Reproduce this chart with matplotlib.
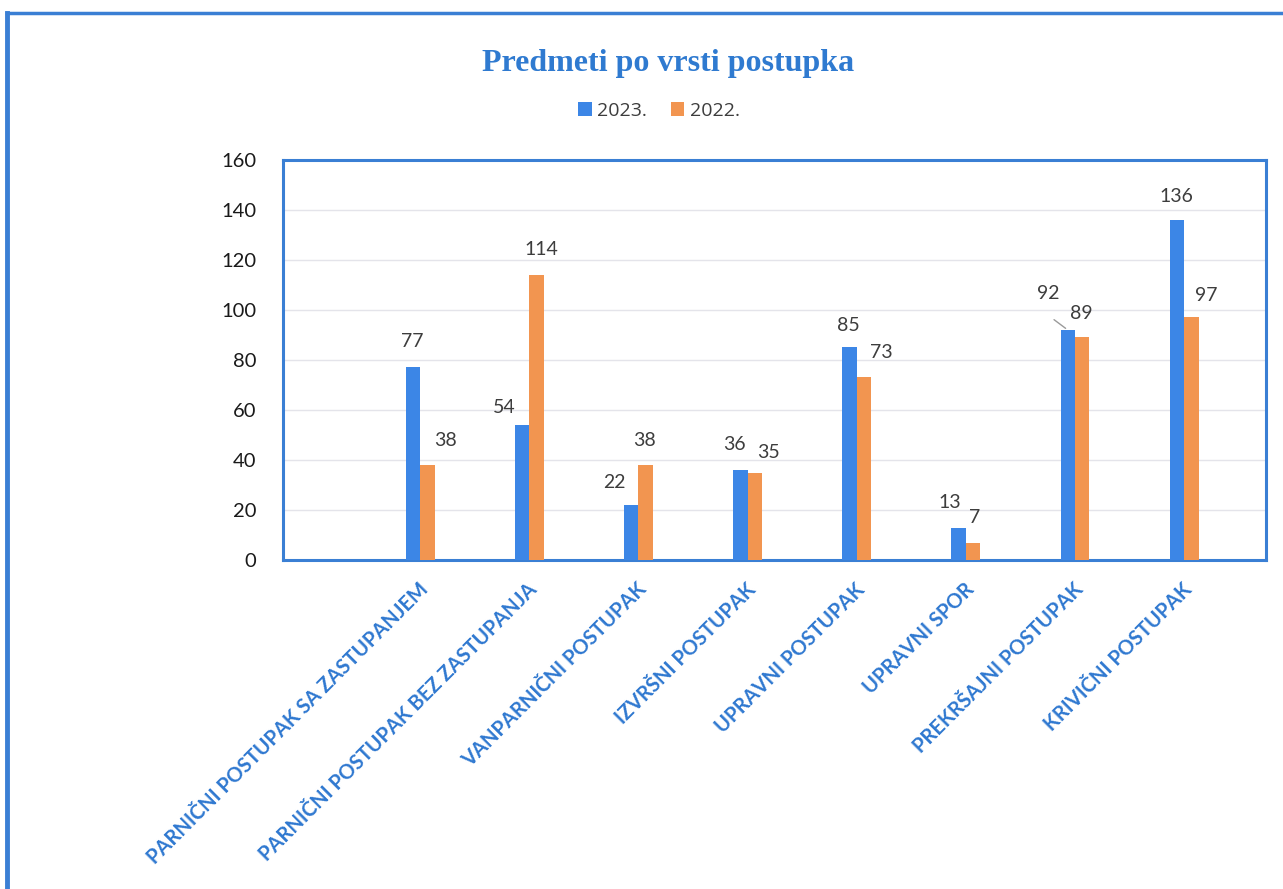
"""Predmeti po vrsti postupka - grouped bar chart, 2023 vs 2022."""

import numpy as np
import matplotlib.pyplot as plt
import matplotlib.transforms as mtrans
from matplotlib.lines import Line2D

#-----------------------------------------------------------------------------
# Data
#-----------------------------------------------------------------------------

categories = ['PARNIČNI POSTUPAK SA ZASTUPANJEM',
              'PARNIČNI POSTUPAK BEZ ZASTUPANJA',
              'VANPARNIČNI POSTUPAK',
              'IZVRŠNI POSTUPAK',
              'UPRAVNI POSTUPAK',
              'UPRAVNI SPOR',
              'PREKRŠAJNI POSTUPAK',
              'KRIVIČNI POSTUPAK']
values_2023 = [77, 54, 22, 36, 85, 13, 92, 136]
values_2022 = [38, 114, 38, 35, 73, 7, 89, 97]
series_names = ['2023.', '2022.']
yticks = [0, 20, 40, 60, 80, 100, 120, 140, 160]

# hand-placed label offsets (pixels) from bar top, as in the original
off_2023 = [(-1, 26), (-18, 17), (-17, 23), (-6, 25), (-1, 22), (-9, 25), (-20, 36), (-1, 23)]
off_2022 = [(18, 25), (5, 25), (-1, 25), (14, 20), (17, 25), (2, 25), (-1, 24), (15, 22)]

BLUE = '#3c86e6'
ORANGE = '#f29550'
FRAME = '#3a7fd4'
LABEL_BLUE = '#2f78d0'
TEXT = '#3d3d3d'

plt.rcParams['font.family'] = ['Lato', 'DejaVu Sans']

#-----------------------------------------------------------------------------
# Figure
#-----------------------------------------------------------------------------

fig = plt.figure(figsize=(12.83, 8.89), dpi=100)
fig.patch.set_facecolor('white')

# outer frame of the scanned page
fig.add_artist(Line2D([7/1283, 7/1283], [0, 1 - 13/889], color=FRAME, lw=3.5,
                      transform=fig.transFigure))
fig.add_artist(Line2D([7/1283, 1], [1 - 13/889, 1 - 13/889], color=FRAME, lw=2.5,
                      transform=fig.transFigure))

ax = fig.add_axes([283/1283, 1 - 560/889, (1266 - 283)/1283, 400/889])

x = np.arange(len(categories))
w = 0.132
b1 = ax.bar(x - w/2, values_2023, w, color=BLUE, label=series_names[0], zorder=3)
b2 = ax.bar(x + w/2, values_2022, w, color=ORANGE, label=series_names[1], zorder=3)

ax.set_xlim(-1.257, 7.75)
ax.set_ylim(0, 160)
ax.set_yticks(yticks)
ax.tick_params(axis='y', length=0, pad=19, labelsize=14.5, labelcolor='#1a1a1a')
ax.grid(axis='y', color='#e4e4ea', lw=1, zorder=0)

ax.set_xticks(x)
ax.set_xticklabels(categories, rotation=45, ha='right', rotation_mode='anchor',
                   fontsize=14.5, fontweight='bold', color=LABEL_BLUE)
ax.tick_params(axis='x', length=0, pad=14)
# nudge tick labels slightly left of the group centre
shift = mtrans.ScaledTranslation(-2/100, 0, fig.dpi_scale_trans)
for lbl in ax.get_xticklabels():
    lbl.set_transform(lbl.get_transform() + shift)

for s in ax.spines.values():
    s.set_color(FRAME)
    s.set_linewidth(2.2)

# data labels
for bars, vals, offs in [(b1, values_2023, off_2023), (b2, values_2022, off_2022)]:
    for rect, v, (dx, dy) in zip(bars, vals, offs):
        cx = rect.get_x() + rect.get_width()/2
        ax.annotate(str(v), (cx, v), xytext=(dx, dy), textcoords='offset pixels',
                    ha='center', va='center', fontsize=14, color=TEXT, zorder=5)

# leader line for 92
r = b1[6]
ax.annotate('', (r.get_x() + r.get_width()/2, values_2023[6]),
            xytext=(-16, 12), textcoords='offset pixels',
            arrowprops=dict(arrowstyle='-', color='#9a9a9a', lw=1))

fig.text(668/1283, 1 - 64/889, 'Predmeti po vrsti postupka', ha='center', va='center',
         fontsize=23, fontweight='bold', color='#2f7ad0', family='Liberation Serif')

fig.legend(handles=[b1, b2], loc='center', bbox_to_anchor=(659/1283, 1 - 111/889),
           ncol=2, frameon=False, handlelength=0.7, handleheight=0.7,
           handletextpad=0.3, columnspacing=1.2, labelcolor=TEXT,
           prop={'family': ['Open Sans', 'DejaVu Sans'], 'size': 14})

fig.savefig('out.png', dpi=100, facecolor='white')
